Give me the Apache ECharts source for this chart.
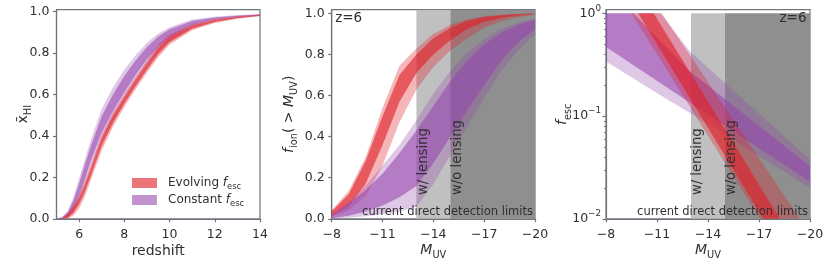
<!DOCTYPE html>
<html><head><meta charset="utf-8">
<script src="https://cdn.jsdelivr.net/npm/echarts@6/dist/echarts.min.js"></script>
<style>html,body{margin:0;padding:0;background:#fff}#c{width:830px;height:268px}</style>
</head><body><div id="c"></div>
<script>
// ---------------- data ----------------
// Panel 1: neutral fraction vs redshift
const zGrid      = [5,5.25,5.5,5.75,6,6.25,6.5,7,7.5,8,8.5,9,9.5,10,11,12,13,14];
const xhiEvo95Lo = [0,0,0,0.015,0.05,0.105,0.18,0.33,0.445,0.54,0.625,0.705,0.78,0.84,0.91,0.945,0.966,0.978];
const xhiEvo68Lo = [0,0,0.005,0.028,0.07,0.128,0.202,0.352,0.463,0.555,0.64,0.72,0.795,0.852,0.918,0.95,0.969,0.98];
const xhiEvo68Hi = [0,0.002,0.02,0.053,0.1,0.163,0.238,0.388,0.497,0.585,0.67,0.75,0.825,0.878,0.932,0.96,0.975,0.984];
const xhiEvo95Hi = [0,0.004,0.028,0.065,0.115,0.18,0.255,0.405,0.515,0.60,0.685,0.765,0.84,0.89,0.94,0.965,0.978,0.986];
const xhiCon95Lo = [0,0,0.005,0.035,0.09,0.165,0.245,0.38,0.48,0.575,0.665,0.745,0.81,0.86,0.925,0.958,0.972,0.981];
const xhiCon68Lo = [0,0.001,0.012,0.05,0.11,0.19,0.275,0.415,0.52,0.61,0.695,0.77,0.83,0.875,0.935,0.962,0.975,0.983];
const xhiCon68Hi = [0,0.006,0.03,0.09,0.17,0.26,0.345,0.495,0.60,0.69,0.765,0.83,0.88,0.915,0.955,0.972,0.981,0.987];
const xhiCon95Hi = [0,0.01,0.04,0.105,0.195,0.285,0.375,0.53,0.635,0.72,0.79,0.85,0.895,0.925,0.962,0.976,0.984,0.989];

// Panel 2: cumulative ionizing fraction vs M_UV
const muvGrid    = [-8,-9,-10,-11,-12,-13,-14,-15,-16,-17,-18,-19,-20];
const fionEvoLightLo = [0.01,0.04,0.11,0.26,0.47,0.63,0.74,0.82,0.88,0.93,0.962,0.982,0.995];
const fionEvoDarkLo  = [0.015,0.06,0.17,0.36,0.57,0.71,0.80,0.87,0.925,0.958,0.978,0.99,0.997];
const fionEvoDarkHi  = [0.035,0.12,0.28,0.50,0.70,0.80,0.88,0.93,0.965,0.983,0.992,0.997,1.0];
const fionEvoLightHi = [0.042,0.135,0.30,0.54,0.745,0.83,0.90,0.945,0.972,0.987,0.994,0.998,1.0];
const fionConLightLo = [0,0.005,0.012,0.022,0.035,0.06,0.17,0.31,0.45,0.59,0.72,0.82,0.90];
const fionConDarkLo  = [0.003,0.015,0.035,0.065,0.105,0.16,0.27,0.40,0.53,0.65,0.77,0.86,0.925];
const fionConDarkHi  = [0.015,0.075,0.14,0.22,0.32,0.43,0.55,0.67,0.77,0.85,0.905,0.945,0.97];
const fionConLightHi = [0.025,0.08,0.16,0.26,0.36,0.48,0.61,0.72,0.81,0.875,0.925,0.955,0.975];

// Panel 3: escape fraction vs M_UV (log)
const fescEvoLightM  = [-9.5,-11.28,-20];
const fescEvoLightLo = [1,0.338,0.00166];
const fescEvoLightHi = [1,1,0.0071];
const fescEvoDarkM   = [-9.9,-10.8,-20];
const fescEvoDarkLo  = [1,0.569,0.0018];
const fescEvoDarkHi  = [1,1,0.00335];
const fescConLightM  = [-8,-11.2,-12.94,-20];
const fescConLightLo = [0.339,0.159,0.107,0.02];
const fescConLightHi = [1,1,0.424,0.0377];
const fescConDarkM   = [-8,-9.6,-12.94,-20];
const fescConDarkLo  = [0.47,0.314,0.135,0.023];
const fescConDarkHi  = [1,1,0.271,0.0324];

// detection limits (M_UV)
const limitLensing = -13, limitNoLensing = -15, limitEnd = -20;

// tick labels
const zTicks = [6,8,10,12,14];
const fracTicks = [0,0.2,0.4,0.6,0.8,1.0];
const muvTicks = [-8,-11,-14,-17,-20];
const logTicks = [0.01,0.1,1];
const logMinorTicks = [0.02,0.03,0.04,0.05,0.06,0.07,0.08,0.09,0.2,0.3,0.4,0.5,0.6,0.7,0.8,0.9];

// ---------------- styling ----------------
const FONT = 'DejaVu Sans';
const AX = '#70757d';
const TXT = '#303030';
const RED_L = 'rgba(222,32,38,0.33)', RED_D = 'rgba(222,32,38,0.62)';
const PUR_L = 'rgba(150,70,172,0.30)', PUR_D = 'rgba(150,70,172,0.58)';
const GRAY_L = '#c0c0c0', GRAY_D = '#8f8f8f';

function richSet(S) {
  return {
    n: {fontSize:S, fontFamily:FONT, color:TXT, lineHeight:S*1.5},
    i: {fontSize:S, fontFamily:FONT, color:TXT, fontStyle:'italic', lineHeight:S*1.5},
    s: {fontSize:S*0.7, fontFamily:FONT, color:TXT, lineHeight:S*0.8, verticalAlign:'bottom'},
    b: {fontSize:S, fontFamily:FONT, color:TXT, lineHeight:S*1.5},
    u: {fontSize:S*0.7, fontFamily:FONT, color:TXT, lineHeight:S*0.8, verticalAlign:'top'},
    sp: {fontSize:S, width:6, lineHeight:S*1.5}
  };
}

const grids = [
  {left:56.5, top:9.7, width:203.5, height:209.1},
  {left:331.7, top:9.7, width:203.3, height:209.1},
  {left:606, top:9.7, width:204, height:209.1}
].map(g => Object.assign(g, {show:true, borderColor:AX, borderWidth:1.2, backgroundColor:'transparent', containLabel:false, outerBoundsMode:'none'}));

const TICK_FS = 12.5, NAME_FS = 14;
function baseAxis(extra) {
  const a = {
    axisLine:{show:true, onZero:false, lineStyle:{color:AX, width:1.2}},
    axisTick:{show:true, length:3.5, lineStyle:{color:AX, width:1.2}},
    axisLabel:{color:TXT, fontSize:TICK_FS, fontFamily:FONT},
    splitLine:{show:false},
    nameMoveOverlap:false,
    nameTextStyle:{rich:richSet(NAME_FS)}
  };
  for (const k in extra) {
    if (typeof extra[k] === 'object' && !Array.isArray(extra[k]) && a[k]) a[k] = Object.assign({}, a[k], extra[k]);
    else a[k] = extra[k];
  }
  return a;
}
const minusFmt = v => (v < 0 ? '\u2212' + (-v) : '' + v);

const xAxes = [
  baseAxis({gridIndex:0, type:'value', min:5, max:14,
    axisTick:{customValues:zTicks}, axisLabel:{customValues:zTicks, margin:9},
    name:'{n|redshift}', nameLocation:'middle', nameGap:22}),
  baseAxis({gridIndex:1, type:'value', min:-20, max:-8, inverse:true,
    axisTick:{customValues:muvTicks}, axisLabel:{customValues:muvTicks, margin:9, formatter:minusFmt},
    name:'{i|M}{s|UV}', nameLocation:'middle', nameGap:21}),
  baseAxis({gridIndex:2, type:'value', min:-20, max:-8, inverse:true,
    axisTick:{customValues:muvTicks}, axisLabel:{customValues:muvTicks, margin:9, formatter:minusFmt},
    name:'{i|M}{s|UV}', nameLocation:'middle', nameGap:21})
];
const yAxes = [
  baseAxis({gridIndex:0, type:'value', min:0, max:1.0097,
    axisTick:{customValues:fracTicks}, axisLabel:{customValues:fracTicks, margin:7, formatter:v=>v.toFixed(1)},
    name:'{n|x\u0304}{s|HI}', nameLocation:'middle', nameRotate:90, nameGap:23}),
  baseAxis({gridIndex:1, type:'value', min:0, max:1.0185,
    axisTick:{customValues:fracTicks}, axisLabel:{customValues:fracTicks, margin:7, formatter:v=>v.toFixed(1)},
    name:'{i|f}{s|ion}{n|( > }{i|M}{s|UV}{n|)}', nameLocation:'middle', nameRotate:90, nameGap:32}),
  baseAxis({gridIndex:2, type:'log', logBase:10, min:0.01, max:1.084,
    axisTick:{customValues:logTicks}, axisLabel:{customValues:logTicks, margin:5,
      formatter:v=>{const e=Math.round(Math.log10(v)); return '{b|10}{u|'+(e<0?'\u2212'+(-e):e)+'}';},
      rich:richSet(TICK_FS)},
    name:'{i|f}{s|esc}', nameLocation:'middle', nameRotate:90, nameGap:33}),
  baseAxis({gridIndex:2, type:'log', logBase:10, min:0.01, max:1.084, position:'left', offset:0,
    axisLine:{show:false}, axisLabel:{show:false},
    axisTick:{customValues:logMinorTicks, length:2, lineStyle:{color:AX, width:1}}})
];

function band(name, xi, yi, xs, lo, hi, color, z) {
  return {
    name, type:'custom', xAxisIndex:xi, yAxisIndex:yi, clip:true, silent:true, z,
    data: xs.map((x,i)=>[x, lo[i], hi[i]]),
    encode:{x:0, y:[1,2]},
    renderItem:(params, api) => {
      if (params.dataIndex !== 0) return {type:'group', children:[]};
      const pts = [];
      for (let i=0;i<xs.length;i++) pts.push(api.coord([xs[i], hi[i]]));
      for (let i=xs.length-1;i>=0;i--) pts.push(api.coord([xs[i], lo[i]]));
      return {type:'polygon', shape:{points:pts}, style:{fill:color}};
    }
  };
}

function annot(xi, yi, items) {
  return {
    type:'custom', xAxisIndex:xi, yAxisIndex:yi, silent:true, clip:false, z:20,
    data: items.map(it=>[it.x, it.y]),
    renderItem:(params, api) => {
      const it = items[params.dataIndex];
      const p = api.coord([it.x, it.y]);
      return {type:'text', x:p[0]+(it.dx||0), y:p[1]+(it.dy||0), rotation:it.rot||0,
        style:{text:it.text, fill:TXT, fontSize:it.size, fontFamily:FONT, align:it.align, verticalAlign:it.va}};
    }
  };
}

const series = [];
// panel 1
series.push(band('Constant',0,0,zGrid,xhiCon95Lo,xhiCon95Hi,PUR_L,2));
series.push(band('Constant',0,0,zGrid,xhiCon68Lo,xhiCon68Hi,PUR_D,3));
series.push(band('Evolving',0,0,zGrid,xhiEvo95Lo,xhiEvo95Hi,RED_L,4));
series.push(band('Evolving',0,0,zGrid,xhiEvo68Lo,xhiEvo68Hi,RED_D,5));
// panel 2
series.push(band('lim',1,1,[limitNoLensing,limitLensing],[0,0],[1.0185,1.0185],GRAY_L,1));
series.push(band('lim',1,1,[limitEnd,limitNoLensing],[0,0],[1.0185,1.0185],GRAY_D,1));
series.push(band('Evolving',1,1,muvGrid,fionEvoLightLo,fionEvoLightHi,RED_L,2));
series.push(band('Evolving',1,1,muvGrid,fionEvoDarkLo,fionEvoDarkHi,RED_D,3));
series.push(band('Constant',1,1,muvGrid,fionConLightLo,fionConLightHi,PUR_L,4));
series.push(band('Constant',1,1,muvGrid,fionConDarkLo,fionConDarkHi,PUR_D,5));
// panel 3
series.push(band('lim',2,2,[limitNoLensing,limitLensing],[0.01,0.01],[1,1],GRAY_L,1));
series.push(band('lim',2,2,[limitEnd,limitNoLensing],[0.01,0.01],[1,1],GRAY_D,1));
series.push(band('Constant',2,2,fescConLightM,fescConLightLo,fescConLightHi,PUR_L,2));
series.push(band('Constant',2,2,fescConDarkM,fescConDarkLo,fescConDarkHi,PUR_D,3));
series.push(band('Evolving',2,2,fescEvoLightM,fescEvoLightLo,fescEvoLightHi,RED_L,4));
series.push(band('Evolving',2,2,fescEvoDarkM,fescEvoDarkLo,fescEvoDarkHi,RED_D,5));

series.push(annot(1,1,[
  {x:-8, y:1.0, dx:3.5, dy:-1.5, text:'z=6', size:13.5, align:'left', va:'top'},
  {x:limitLensing, y:0.116, dx:0.5, text:'w/ lensing', size:13.2, align:'left', va:'top', rot:Math.PI/2},
  {x:limitNoLensing, y:0.116, dx:0.5, text:'w/o lensing', size:13.2, align:'left', va:'top', rot:Math.PI/2},
  {x:-20, y:0, dx:-2, dy:-0.5, text:'current direct detection limits', size:11.5, align:'right', va:'bottom'}
]));
series.push(annot(2,2,[
  {x:-20, y:1.0, dx:-3.5, dy:-1.5, text:'z=6', size:13.5, align:'right', va:'top'},
  {x:limitLensing, y:0.017, dx:0.5, text:'w/ lensing', size:13.2, align:'left', va:'top', rot:Math.PI/2},
  {x:limitNoLensing, y:0.017, dx:0.5, text:'w/o lensing', size:13.2, align:'left', va:'top', rot:Math.PI/2},
  {x:-20, y:0.01, dx:-2, dy:-0.5, text:'current direct detection limits', size:11.5, align:'right', va:'bottom'}
]));

const legendRich = richSet(12);
legendRich.n.lineHeight = 16; legendRich.i.lineHeight = 16; legendRich.sp.lineHeight = 16;
const option = {
  animation:false,
  backgroundColor:'#fff',
  grid:grids,
  xAxis:xAxes,
  yAxis:yAxes,
  legend:{
    orient:'vertical', left:132, top:177, itemWidth:25, itemHeight:10, itemGap:3, padding:0,
    selectedMode:false,
    data:[
      {name:'Evolving', icon:'rect', itemStyle:{color:'rgba(222,32,38,0.62)', borderWidth:0}},
      {name:'Constant', icon:'rect', itemStyle:{color:'rgba(150,70,172,0.58)', borderWidth:0}}
    ],
    formatter: nm => '{sp| }{n|' + nm + ' }{i|f}{s|esc}',
    textStyle:{rich:legendRich, fontSize:12, fontFamily:FONT, color:TXT}
  },
  series
};
const chart = echarts.init(document.getElementById('c'), null, {renderer:'canvas'});
chart.setOption(option);
</script></body></html>
